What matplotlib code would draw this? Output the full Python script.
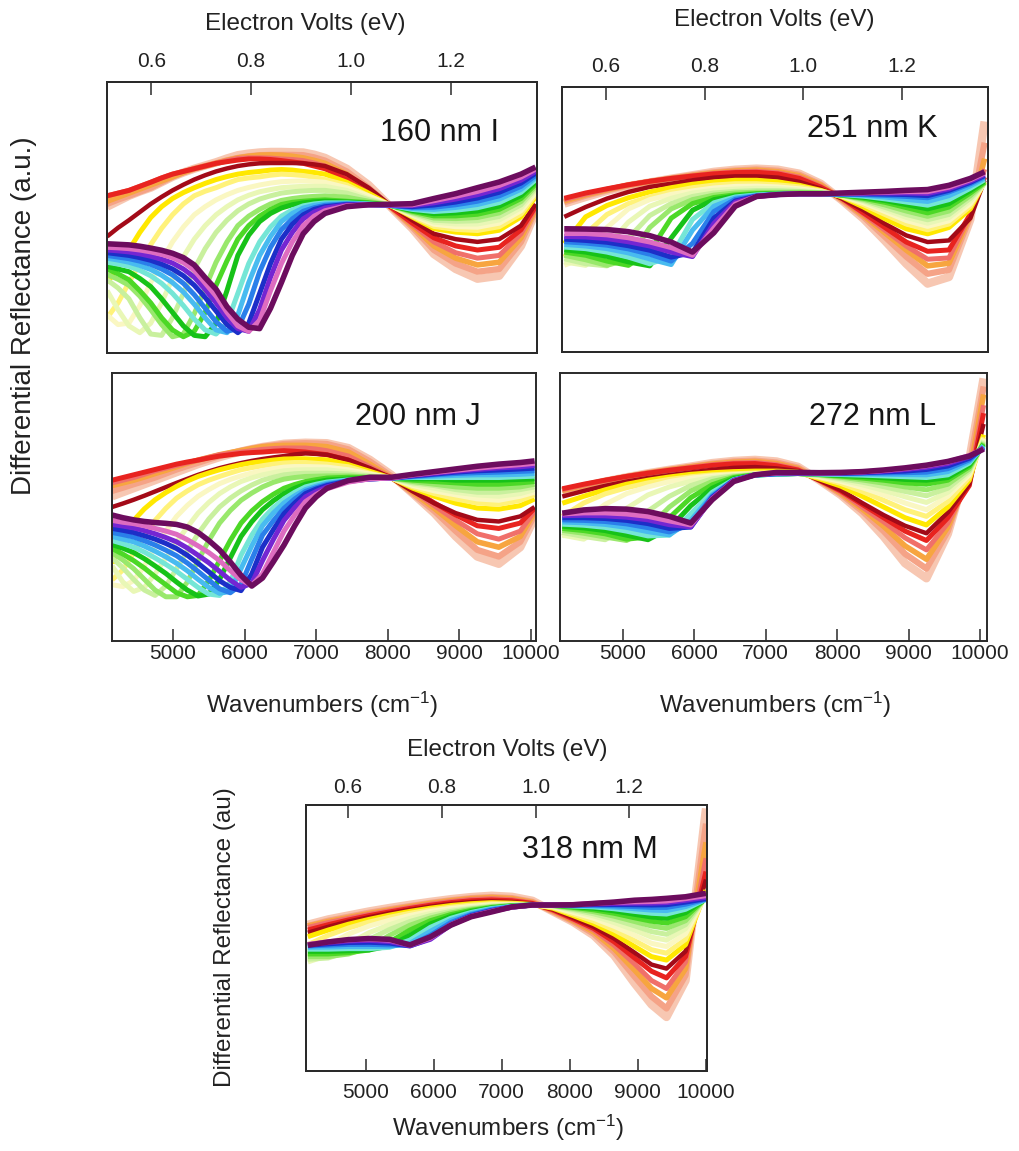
import numpy as np
import matplotlib.pyplot as plt

plt.rcParams['font.family'] = ['Liberation Sans', 'DejaVu Sans']
plt.rcParams['mathtext.fontset'] = 'custom'
plt.rcParams['mathtext.rm'] = 'Liberation Sans'
plt.rcParams['mathtext.it'] = 'Liberation Sans:italic'

# spectrum colours, first scan -> last scan
colors = ['#f7c7b2', '#f5a387', '#f7a540', '#f0706a', '#e8231f', '#a30a18',
          '#ffe800', '#fff27a', '#faf7c2', '#e9f7b6', '#c9f09e', '#99e86c',
          '#4cd826', '#17c218', '#75e6d6', '#48bbf0', '#2a7fea', '#1c2fc8',
          '#7426d2', '#de6cc0', '#6c0c5e']
widths = [6, 4.5, 4, 3.6, 3.6, 3.2, 3.6, 3.6, 3.6, 3.6, 3.6, 3.6,
          3.6, 3.6, 3.6, 3.6, 3.6, 3.6, 3.6, 3.6, 4]

# wavenumber samples (cm-1)
wn_fine = [4150, 4300, 4450, 4600, 4750, 4900, 5050, 5200, 5350, 5500, 5650,
           5800, 5950, 6100, 6250, 6400, 6550, 6700, 6850, 7000, 7150,
           7450, 7750, 8050, 8350, 8650, 8950, 9250, 9550, 9850, 10050]
wn = [4150, 4450, 4750, 5050, 5350, 5650, 5950, 6250, 6550, 6850, 7150,
      7450, 7750, 8050, 8350, 8650, 8950, 9250, 9550, 9850, 10050]
wn_m = [4150, 4450, 4750, 5050, 5350, 5650, 5950, 6250, 6550, 6850, 7150,
        7450, 7750, 8050, 8350, 8650, 8950, 9200, 9420, 9700, 10000]

wn_ticks = [5000, 6000, 7000, 8000, 9000, 10000]
ev_ticks = [0.6, 0.8, 1.0, 1.2]
ev_labels = ['0.6', '0.8', '1.0', '1.2']

# differential reflectance (a.u.) for each scan
curves_160 = [
    [54, 56, 58, 59.6, 61, 63, 65, 66.6, 68, 69.2, 70.4, 71.8, 73, 73.6, 74, 74.2, 74.2, 74.1, 74, 73.2, 72,
     68, 62, 54, 46, 36.5, 31, 27.4, 28.5, 39.5, 52],
    [55, 56.6, 58, 59.5, 61, 63, 65, 66.6, 68, 69, 70, 71.1, 72, 72.6, 73, 73.1, 73.1, 73.1, 73, 72.2, 71,
     67, 61, 54, 46.5, 38, 33, 30, 31, 41, 52.5],
    [56, 57.5, 59, 60.5, 62, 63.5, 65, 66.6, 68, 69, 70, 71.1, 72, 72.6, 73, 73.1, 73, 72.6, 72, 71.1, 70,
     66, 60, 54, 47, 39.5, 35, 32.5, 33.5, 42.5, 53],
    [58, 59, 60, 61.5, 63, 64.6, 66, 67, 68, 69, 70, 71, 71.8, 72, 72, 71.9, 71.6, 71.4, 71, 70.1, 69,
     65, 60, 54, 47.5, 41, 37, 35, 36, 44, 53.5],
    [58, 59, 60, 61.5, 63, 64.6, 66, 67, 68, 69, 70, 70.6, 71.2, 71.6, 71.6, 71.4, 71, 70.5, 70, 69, 68,
     64, 59, 54, 48, 42.5, 39.5, 38, 39, 45.5, 54],
    [43, 46.2, 49, 52, 55, 57.6, 60, 62.1, 64, 65.6, 67, 68.1, 69, 69.6, 70, 70.1, 70.1, 70.1, 70, 69.6, 69,
     66, 61, 54.5, 49, 44, 42, 41, 42, 47, 55],
    [26, 31.5, 38, 44.5, 50, 54, 57, 59.2, 61, 62.6, 64, 65.1, 66, 66.6, 67, 67.5, 67.7, 67.5, 67, 66.6, 66,
     63, 59, 54.5, 50.2, 45.9, 44.6, 44, 45.3, 50.2, 57.6],
    [13, 18.5, 26, 33, 40, 46, 51, 55, 58, 59.7, 61, 62.6, 64, 64.6, 65, 65.6, 66, 65.8, 65.5, 64.8, 64,
     62, 58, 54.5, 50.5, 46.7, 45.6, 45.2, 46.6, 51.3, 58.4],
    [14, 10.5, 11, 17.5, 26, 34, 41, 46.5, 51, 54, 56.5, 58.4, 60, 61.1, 62, 62.7, 63.2, 63.4, 63.5, 63.3, 63,
     61, 58, 54.5, 50.9, 47.5, 46.6, 46.4, 47.9, 52.5, 59.2],
    [23, 16, 10, 7.5, 11, 18.5, 27.5, 35.5, 42, 47, 51, 54, 56.5, 58.2, 59.5, 60.3, 61, 61.3, 61.5, 61.5, 61.5,
     60, 57, 54.5, 51.2, 48.3, 47.6, 47.6, 49.1, 53.6, 60],
    [27, 24, 20, 13, 7, 6.5, 13, 22, 31, 38.5, 44.5, 49, 52.5, 55, 56.8, 58, 59, 59.5, 59.8, 60, 60,
     59, 56.6, 54.5, 51.6, 49, 48.6, 48.8, 50.4, 54.7, 60.7],
    [29, 27.2, 25, 21, 16, 10.5, 6, 7, 14.5, 24, 33.5, 41, 47, 50.5, 53, 55, 56.3, 57, 57.5, 57.8, 58,
     57.5, 56, 54.5, 51.9, 49.8, 49.6, 50, 51.7, 55.9, 61.5],
    [31, 29.2, 27, 23, 18.5, 13, 8.5, 6, 8, 15, 25, 34, 42, 47, 50.5, 53, 54.8, 55.6, 56, 56.3, 56.5,
     56, 55.5, 54.5, 52.3, 50.6, 50.6, 51.2, 53, 57, 62.3],
    [32, 31, 30, 27.5, 24.5, 20, 15, 10, 6.5, 6, 11, 23, 36, 43.5, 48.5, 51.5, 53.5, 54.7, 55.4, 55.8, 56,
     55.7, 55.2, 54.5, 52.6, 51.4, 51.7, 52.4, 54.2, 58.1, 63.1],
    [33.5, 32.8, 32, 30.5, 28.5, 25.7, 22, 17.5, 12.5, 8.5, 7, 11, 22, 33, 41, 46.5, 50.5, 52.8, 54.3, 55, 55.4,
     55.4, 55, 54.5, 53, 52.2, 52.7, 53.6, 55.5, 59.3, 63.9],
    [35, 34.3, 33.5, 32.3, 30.8, 28.7, 26, 22.5, 18, 13, 8.5, 7.5, 14, 26, 36, 43, 48.5, 51.5, 53.5, 54.5, 55,
     55.2, 54.9, 54.5, 53.3, 53, 53.7, 54.8, 56.8, 60.4, 64.7],
    [36, 35.4, 34.8, 33.9, 32.7, 31, 28.8, 25.7, 21.5, 16.5, 11.5, 8, 9, 18, 30, 39, 45.5, 49.5, 52.3, 53.6, 54.5,
     55, 54.8, 54.5, 53.7, 53.8, 54.7, 56, 58, 61.5, 65.5],
    [37, 36.5, 36, 35.2, 34.2, 32.8, 31, 28.5, 25, 20.5, 15.5, 10.5, 7.5, 11, 22, 33, 42, 47.5, 51, 53, 54,
     54.8, 54.7, 54.5, 54, 54.6, 55.7, 57.2, 59.3, 62.7, 66.3],
    [38, 37.7, 37.3, 36.6, 35.7, 34.6, 33.2, 31, 28, 23.5, 18.5, 13, 9, 8, 16, 28, 38, 44.5, 49.5, 52, 53.5,
     54.6, 54.7, 54.6, 54.4, 55.4, 56.8, 58.4, 60.6, 63.8, 67],
    [39, 38.8, 38.5, 38, 37.3, 36.4, 35.2, 33.4, 30.5, 25.8, 21, 15, 10, 8, 12, 23, 33, 41, 47, 50.5, 52.5,
     54.3, 54.7, 54.7, 54.7, 56.2, 57.8, 59.6, 61.8, 64.9, 67.8],
    [40.3, 40.1, 39.9, 39.4, 38.7, 37.9, 36.8, 35.2, 32.5, 27.8, 23.5, 17.1, 12.5, 9.5, 9, 16.5, 26, 36, 44, 48.5, 51.5,
     54, 54.7, 54.9, 55.1, 57, 58.8, 61, 63.1, 66, 68.6],
]

curves_200 = [
    [54, 55.5, 57, 58.5, 60, 61.5, 63, 64.5, 66, 67.3, 68.6, 69.7, 70.7, 71.6, 72.4, 73, 73.6, 73.8, 74, 73.9, 73.8,
     72, 67.6, 62, 55, 47.7, 39, 31.5, 28.8, 35, 46],
    [56, 57.2, 58.5, 59.7, 61, 62.5, 64, 65.3, 66.5, 67.8, 69, 70, 71, 71.8, 72.5, 73, 73.5, 73.7, 73.8, 73.7, 73.5,
     71.5, 67, 61.5, 55, 48.5, 41, 34, 31.5, 37, 47],
    [58, 59, 60, 61.2, 62.5, 63.7, 65, 66.3, 67.5, 68.5, 69.5, 70.3, 71, 71.8, 72.5, 72.8, 73, 73, 73, 72.8, 72.5,
     70.5, 66, 61, 55.5, 49.5, 43, 37, 35, 39, 48],
    [59, 60, 61, 62.2, 63.5, 64.5, 65.5, 66.5, 67.5, 68.5, 69.5, 70, 70.5, 71, 71.5, 71.8, 72, 72, 72, 71.6, 71,
     69, 65, 61, 56, 50.5, 45, 40, 38, 41, 48.5],
    [60, 61, 62, 63, 64, 65, 66, 66.8, 67.5, 68.3, 69, 69.5, 70, 70.3, 70.5, 70.8, 71, 70.8, 70.5, 70, 69.5,
     67.5, 64, 61, 56.5, 51.5, 47, 43, 42, 44, 49.5],
    [50, 51.3, 52.7, 54.2, 55.8, 57.4, 59, 60.5, 62, 63.3, 64.5, 65.5, 66.4, 67.2, 67.9, 68.5, 69, 69.6, 70, 69.8, 69.5,
     67.6, 64.5, 60.8, 55.8, 51.4, 47.7, 45.2, 44.6, 46.5, 50],
    [29, 38, 45, 49.3, 52.7, 55.4, 57.7, 59.7, 61.4, 62.7, 63.9, 64.9, 65.8, 66.5, 67, 67.5, 67.9, 68, 68, 67.8, 67.6,
     65.8, 63.3, 60.8, 57, 54, 51.4, 49.6, 49.2, 50.5, 53],
    [22.8, 26.5, 32.8, 39.3, 45, 49.5, 53.3, 56, 58.3, 60, 61.4, 62.7, 63.9, 64.7, 65.4, 66, 66.4, 66.6, 66.6, 66.3, 66,
     65, 62.6, 60.8, 57.5, 55, 53, 51.5, 51, 52.5, 54.5],
    [21, 20.3, 22.5, 28, 35, 41, 46.5, 50.6, 54, 56.5, 58.7, 60.3, 61.6, 62.7, 63.6, 64.3, 64.9, 65.1, 65.1, 65, 64.9,
     63.9, 62.3, 60.8, 58, 56, 54.5, 53, 52.5, 54, 55.5],
    [28, 22, 18.5, 20, 25, 31, 37, 42.5, 47.7, 51.7, 55, 57.5, 59.5, 60.9, 62, 62.8, 63.5, 63.8, 63.9, 63.9, 63.9,
     63, 61.9, 60.8, 58.5, 57, 55.5, 54.5, 54, 55, 56.5],
    [31, 27.3, 23, 19, 17, 20.5, 27, 33.5, 40, 45.5, 50, 53.3, 56, 58.2, 60, 61.1, 62, 62.4, 62.6, 62.6, 62.6,
     62.3, 61.5, 60.8, 59, 58, 56.5, 55.5, 55.5, 56.5, 57.5],
    [33, 30.2, 27, 23, 19, 16.5, 16.5, 22, 30, 37.5, 44, 48.7, 52.5, 55.2, 57.5, 59.2, 60.4, 61, 61.4, 61.5, 61.6,
     61.6, 61.2, 60.8, 59.5, 58.5, 57.5, 57, 57, 57.5, 58.5],
    [34.5, 32.4, 30, 27.2, 24, 21, 18, 16.5, 17, 22.5, 30, 37.5, 44, 48.5, 52, 54.7, 57, 58.4, 59.5, 60.2, 60.8,
     61.1, 61, 60.8, 60, 59.5, 59, 58.5, 58.5, 59, 59.5],
    [36, 34.6, 33, 30.7, 28, 25.2, 22, 19, 16.8, 17.5, 23, 31, 39, 44.5, 49, 52.3, 55, 57, 58.5, 59.3, 60,
     60.5, 60.8, 60.8, 60.5, 60.5, 60, 60, 60, 60.3, 60.5],
    [37.5, 36.3, 35, 33.2, 31, 28.6, 26, 23, 20, 17.5, 17, 22, 32, 39.5, 45.5, 49.7, 53, 55.5, 57.5, 58.5, 59.3,
     60.1, 60.6, 60.8, 61, 61, 61, 61, 61, 61.3, 61.5],
    [39, 38, 37, 35.4, 33.5, 31.4, 29, 26.2, 23, 20, 17.8, 18.5, 27, 35.5, 43, 47.7, 51.5, 54.2, 56.5, 57.8, 58.9,
     59.9, 60.5, 60.8, 61.2, 61.5, 61.8, 62, 62, 62.2, 62.5],
    [40.5, 39.7, 38.8, 37.4, 35.8, 33.9, 31.8, 29.1, 26, 22.7, 19.5, 18, 21, 30.5, 39.5, 44.8, 49.5, 53, 55.8, 57.2, 58.4,
     59.8, 60.5, 60.8, 61.4, 62, 62.5, 62.8, 63, 63.3, 63.5],
    [42, 41.3, 40.5, 39.3, 38, 36.4, 34.5, 32, 29, 25.8, 22.5, 20, 18.8, 25, 35, 41.5, 47.5, 51.5, 55, 56.7, 58,
     59.7, 60.5, 60.8, 61.6, 62.3, 63, 63.5, 63.8, 64.2, 64.5],
    [43.5, 42.9, 42.2, 41.2, 40, 38.6, 37, 34.7, 32, 29.2, 26, 22.7, 20, 21.5, 30, 37.8, 45, 49.8, 53.8, 55.8, 57.5,
     59.5, 60.5, 60.8, 61.8, 62.6, 63.4, 64, 64.6, 65, 65.5],
    [45, 44.3, 43.8, 43, 42, 41, 39.8, 37.8, 35.5, 33, 30, 26.3, 22.8, 20.8, 25, 33, 41, 47, 52, 54.7, 56.8,
     59.3, 60.5, 60.8, 62, 62.9, 63.7, 64.5, 65.2, 65.8, 66.3],
    [47, 46, 45.2, 44.6, 44.2, 43.9, 43.5, 42.5, 40.5, 37.5, 34, 29.5, 24.5, 20.5, 23.5, 29.5, 35.8, 43, 49.6, 53.8, 57,
     59.9, 61.1, 61.1, 62.2, 63.2, 64.2, 65.2, 66, 66.6, 67.2],
]

curves_251 = [
    [56, 58.5, 60.8, 62.6, 64, 65.4, 66.7, 68, 68.8, 69.2, 68.8, 67.3, 63.5, 57.2, 50.3, 42, 33.3, 25.8, 28.3, 50, 87],
    [56.5, 59, 61, 62.8, 64.2, 65.5, 66.7, 67.8, 68.5, 68.9, 68.4, 66.9, 63.2, 57.3, 51, 43.5, 36, 29.5, 31, 51, 79],
    [57, 59.3, 61.2, 63, 64.3, 65.5, 66.6, 67.6, 68.3, 68.6, 68, 66.5, 63, 57.5, 51.5, 45, 38.5, 32.5, 33.5, 51.5, 73],
    [57.5, 59.6, 61.4, 63, 64.4, 65.5, 66.5, 67.4, 68, 68.2, 67.6, 66, 62.5, 57.7, 52, 46, 40, 35, 35.5, 52, 69],
    [58, 60, 61.6, 63.1, 64.4, 65.5, 66.4, 67.2, 67.7, 67.8, 67.2, 65.5, 62.2, 58, 52.5, 47, 41.5, 38, 38.5, 52, 66],
    [51, 54.7, 57.9, 60.4, 62.3, 63.5, 64.8, 65.8, 66.3, 66.3, 65.8, 64.2, 61.6, 57.9, 53.5, 48.4, 44, 41.5, 42.1, 50.5, 64.8],
    [40.9, 51, 55.3, 58.2, 60.4, 62, 63.3, 64.2, 64.8, 64.8, 64.2, 62.9, 61, 58.5, 54.7, 50.3, 46.5, 44.6, 47, 54, 64.2],
    [35.8, 44.6, 51.9, 56, 58.5, 60.5, 62, 63, 63.5, 63.5, 63.1, 62.3, 60.8, 58.7, 55.6, 51.9, 48.3, 46.1, 48.3, 55, 64],
    [32.7, 36, 47, 54, 57.5, 59.5, 60.8, 61.9, 62.5, 62.6, 62.3, 61.6, 60.5, 58.9, 56.3, 53, 49.6, 47.4, 49.5, 56, 63.8],
    [34, 32.7, 40, 49, 55, 58, 60, 61, 61.5, 61.8, 61.6, 61.1, 60.3, 59, 56.8, 53.8, 50.8, 48.6, 50.7, 57, 63.7],
    [35.2, 33.3, 32.5, 43, 51.5, 56, 58.7, 60, 60.6, 60.9, 60.9, 60.6, 60.1, 59.1, 57.2, 54.6, 51.9, 49.9, 51.9, 58, 63.7],
    [36.5, 34.8, 32.7, 35, 47, 54, 57.5, 59.2, 60, 60.3, 60.3, 60.3, 60, 59.2, 57.6, 55.5, 53.2, 51.2, 53.2, 59, 63.8],
    [37.7, 36.5, 34.3, 32.7, 38, 50.5, 56, 58.3, 59.3, 59.8, 59.9, 59.9, 59.9, 59.2, 58, 56.5, 54.5, 52.5, 54.7, 60, 64],
    [38.6, 37.7, 36.1, 34, 32.5, 43, 53.5, 57.5, 58.9, 59.5, 59.7, 59.8, 59.8, 59.3, 58.4, 57.2, 55.6, 54, 56, 60.9, 64.5],
    [39.6, 39, 37.7, 35.8, 33.3, 36, 50, 56.3, 58.5, 59.3, 59.6, 59.7, 59.8, 59.4, 58.8, 57.8, 56.6, 55.4, 57.5, 61.8, 65],
    [40.6, 40, 39, 37.4, 35.1, 33, 46, 55, 58.1, 59.1, 59.5, 59.7, 59.7, 59.5, 59.1, 58.5, 57.6, 56.8, 59, 62.7, 65.6],
    [41.6, 41.1, 40.3, 38.9, 36.9, 34.3, 41, 53, 57.6, 58.9, 59.4, 59.7, 59.7, 59.6, 59.4, 59.1, 58.7, 58.2, 60.4, 63.5, 66.2],
    [42.6, 42.1, 41.4, 40.1, 38.4, 35.8, 37.5, 50.5, 57, 58.8, 59.4, 59.7, 59.7, 59.7, 59.7, 59.6, 59.4, 59, 61, 64, 66.6],
    [43.6, 43.4, 42.8, 41.6, 40, 37.7, 36, 48.5, 56.5, 58.7, 59.4, 59.7, 59.7, 59.8, 59.9, 60, 60, 59.8, 61.6, 64.5, 67],
    [44.7, 44.7, 44.2, 43.1, 41.5, 39.4, 36.5, 46.8, 55.8, 58.7, 59.4, 59.7, 59.7, 59.9, 60.1, 60.3, 60.5, 60.5, 62.2, 65, 67.5],
    [46.5, 46.4, 46.2, 45.4, 43.9, 41.5, 37.7, 45, 55, 58.7, 59.4, 59.7, 59.7, 60, 60.3, 60.6, 61, 61.3, 62.9, 65.5, 68],
]

curves_272 = [
    [55.8, 57.7, 59.5, 61.1, 62.6, 63.9, 65.1, 66.4, 67.2, 67.6, 67, 65, 60, 54.5, 47.7, 39, 29, 23.4, 40, 67.6, 98],
    [56, 57.9, 59.7, 61.2, 62.6, 63.9, 65, 66.2, 67, 67.3, 66.6, 64.7, 60, 54.8, 48.5, 41, 32.5, 27, 41, 65, 95],
    [56.2, 58, 59.8, 61.3, 62.7, 63.9, 65, 66, 66.7, 67, 66.2, 64.4, 60, 55.2, 49.3, 42.8, 35.5, 30.5, 42.5, 62, 92],
    [56.5, 58.2, 59.9, 61.4, 62.7, 63.8, 64.8, 65.8, 66.4, 66.6, 65.8, 64.1, 60, 55.6, 50, 44.5, 38.5, 34, 44, 60, 88],
    [56.8, 58.5, 60, 61.4, 62.6, 63.7, 64.6, 65.5, 66.1, 66.2, 65.4, 63.8, 60, 56, 51, 46, 41, 37.5, 46, 58, 85],
    [53.9, 56, 57.9, 59.5, 60.8, 61.9, 62.9, 63.9, 64.6, 64.9, 64.4, 63.4, 60, 56.3, 51.5, 47, 43, 40.2, 48, 58.5, 81],
    [51.4, 54, 56.4, 58.5, 60, 61.2, 62.2, 62.8, 63.2, 63.4, 63.4, 63, 60.5, 57.8, 54, 50, 46, 43.3, 50, 60, 77],
    [46.5, 51.5, 54.9, 57.2, 59, 60.3, 61.3, 62, 62.4, 62.7, 62.8, 62.7, 61, 58.8, 55.8, 52.5, 49, 46.5, 52, 61, 76],
    [39, 45, 51, 55, 57.5, 59.5, 60.8, 61.6, 62.1, 62.4, 62.6, 62.6, 61.3, 59.5, 57.2, 54.5, 51.5, 49, 54, 62, 75.5],
    [39.5, 38, 43, 49.5, 54.5, 57.5, 59.6, 61, 61.8, 62.2, 62.5, 62.5, 61.6, 60.1, 58.3, 56.2, 53.8, 51.7, 55.5, 62.8, 75],
    [40.5, 39, 37.8, 42, 48.5, 54, 58, 60.5, 61.6, 62.1, 62.4, 62.5, 61.8, 60.6, 59.3, 57.6, 55.8, 54.2, 57, 63.5, 74.5],
    [41.3, 40.2, 38.8, 37.5, 42, 50, 56, 59.5, 61.3, 62, 62.3, 62.5, 62, 61.1, 60.1, 58.9, 57.5, 56.4, 58.5, 64.2, 74],
    [42, 41.2, 40, 38, 38.8, 46, 53.5, 58.3, 61, 62, 62.3, 62.5, 62.1, 61.5, 60.8, 60, 59, 58.5, 60, 65, 73.6],
    [42.8, 42.2, 41.2, 39.5, 37.8, 42, 50.5, 57, 60.6, 61.9, 62.3, 62.5, 62.2, 61.8, 61.4, 60.9, 60.3, 60, 61, 65.7, 73.2],
    [43.6, 43.2, 42.4, 41, 39.2, 39.5, 47.5, 55.5, 60.2, 61.9, 62.3, 62.5, 62.3, 62.1, 61.9, 61.6, 61.3, 61, 62, 66.4, 72.9],
    [44.4, 44.1, 43.5, 42.4, 40.8, 39.6, 45, 54.5, 60, 61.9, 62.3, 62.5, 62.4, 62.3, 62.3, 62.2, 62.1, 62, 63.2, 67, 72.6],
    [45.2, 45, 44.6, 43.7, 42.3, 40.7, 43.5, 54, 60, 62, 62.4, 62.5, 62.5, 62.5, 62.6, 62.7, 62.8, 63, 64.3, 67.6, 72.3],
    [46, 46, 45.7, 45, 43.8, 42, 42.5, 53.6, 59.9, 62, 62.5, 62.6, 62.5, 62.6, 62.8, 63.1, 63.4, 64, 65.3, 68.2, 72],
    [46.8, 46.9, 46.7, 46.2, 45.2, 43.4, 42.6, 53.3, 59.8, 62, 62.6, 62.7, 62.6, 62.7, 63, 63.4, 64, 64.8, 66.2, 68.8, 71.9],
    [47.4, 47.8, 47.8, 47.4, 46.5, 44.8, 43.3, 53, 59.7, 62, 62.7, 62.8, 62.7, 62.8, 63.1, 63.6, 64.4, 65.4, 66.8, 69.2, 71.8],
    [47.7, 48.9, 49.4, 49.2, 48.3, 46.5, 44, 52.7, 59.5, 62, 62.9, 62.9, 62.8, 62.9, 63.2, 63.8, 64.6, 65.6, 67, 69, 71.6],
]

curves_318 = [
    [55, 57, 58.5, 60, 61.3, 62.5, 63.6, 64.6, 65.4, 65.9, 65.5, 64, 60, 56, 51, 43.5, 33, 25, 20.3, 34, 98.7],
    [54.5, 56.5, 58, 59.5, 60.8, 62, 63.2, 64.2, 65, 65.4, 65, 63.6, 60, 56.2, 51.6, 44.8, 35.5, 28, 23.5, 36, 93],
    [54.5, 56.2, 57.7, 59.2, 60.5, 61.8, 63, 64, 64.8, 65.2, 64.8, 63.4, 60.2, 56.5, 52.3, 46, 38, 31, 27.5, 38.5, 86],
    [54, 55.8, 57.4, 58.9, 60.2, 61.5, 62.7, 63.7, 64.5, 64.8, 64.4, 63.2, 60.4, 56.8, 53, 47.3, 40.3, 34, 31, 41, 80],
    [53, 55, 56.8, 58.4, 59.8, 61.1, 62.3, 63.3, 64, 64.3, 64, 63, 60.6, 57.2, 53.6, 48.6, 42.5, 37.5, 35, 43, 75],
    [52, 54.2, 56.2, 57.8, 59.3, 60.6, 61.8, 62.8, 63.5, 63.8, 63.5, 62.8, 60.8, 57.6, 54.2, 49.8, 44.5, 40, 38.5, 45, 72],
    [50.5, 53, 55.2, 57, 58.6, 60, 61.2, 62.2, 62.9, 63.3, 63.1, 62.6, 61.2, 58.4, 55.4, 51.5, 46.8, 43, 41.7, 47.5, 68],
    [47.5, 51, 53.8, 56, 57.8, 59.3, 60.6, 61.6, 62.4, 62.9, 62.8, 62.5, 61.5, 59, 56.4, 53, 49, 45.6, 44.3, 49.5, 67],
    [43, 47.5, 51.5, 54.5, 56.7, 58.5, 60, 61.1, 61.9, 62.5, 62.6, 62.4, 61.8, 59.6, 57.4, 54.4, 51, 48, 46.8, 51.5, 66.5],
    [41, 43.5, 48, 52, 55, 57.4, 59.2, 60.5, 61.5, 62.2, 62.4, 62.4, 62, 60.2, 58.3, 55.8, 53, 50.3, 49.2, 53.5, 66],
    [42, 42.5, 45, 49.5, 53.2, 56.2, 58.4, 60, 61.1, 61.9, 62.3, 62.4, 62.1, 60.7, 59.1, 57, 54.6, 52.4, 51.4, 55, 65.6],
    [43, 43, 44, 46.5, 51, 54.8, 57.5, 59.4, 60.8, 61.7, 62.2, 62.4, 62.2, 61.1, 59.9, 58.2, 56.2, 54.5, 53.6, 56.5, 65.3],
    [44, 44, 44.5, 45.5, 48.5, 53, 56.5, 58.8, 60.4, 61.5, 62.1, 62.4, 62.3, 61.5, 60.6, 59.3, 57.6, 56.3, 55.6, 58, 65],
    [45, 45, 45.2, 45.5, 47, 51, 55.3, 58.1, 60, 61.3, 62, 62.4, 62.4, 61.8, 61.2, 60.2, 58.9, 57.9, 57.4, 59.5, 64.8],
    [45.8, 45.8, 46, 46, 46.5, 49.2, 54, 57.4, 59.6, 61.1, 61.9, 62.4, 62.4, 62, 61.7, 61, 60, 59.3, 59, 60.8, 64.6],
    [46.5, 46.6, 46.8, 46.8, 46.8, 48, 52.5, 56.6, 59.2, 60.9, 61.8, 62.4, 62.4, 62.2, 62, 61.6, 61, 60.5, 60.3, 61.8, 64.5],
    [47, 47.3, 47.6, 47.6, 47.4, 47.3, 51, 55.8, 58.8, 60.6, 61.7, 62.4, 62.4, 62.3, 62.3, 62.1, 61.8, 61.5, 61.5, 62.7, 64.6],
    [47.3, 47.8, 48.3, 48.4, 48.1, 47, 49.8, 55.1, 58.4, 60.3, 61.6, 62.4, 62.4, 62.4, 62.6, 62.6, 62.5, 62.4, 62.5, 63.5, 64.8],
    [47.5, 48.3, 48.9, 49.1, 48.7, 47.1, 49.5, 54.9, 58.2, 60.1, 61.6, 62.4, 62.4, 62.5, 62.8, 63, 63.1, 63.1, 63.3, 64.2, 65.3],
    [47.6, 48.6, 49.3, 49.6, 49.2, 47.4, 50, 55, 58.1, 60, 61.6, 62.4, 62.4, 62.6, 63, 63.4, 63.6, 63.7, 63.9, 64.8, 65.9],
    [47.3, 48.5, 49.4, 49.8, 49.5, 47.4, 50.4, 54.8, 58, 59.8, 61.7, 62.4, 62.4, 62.5, 63, 63.5, 64.2, 64.5, 64.9, 65.5, 66.8],
]

W, H = 1020, 1151
fig = plt.figure(figsize=(W / 100, H / 100), dpi=100)


def px_rect(left, top, right, bottom):
    return [left / W, 1 - bottom / H, (right - left) / W, (bottom - top) / H]


def draw_panel(rect, xs, curves, xlim, label, lx, ly, ev=None, ev_pad=8,
               wn_axis=False, wn_pad=3):
    ax = fig.add_axes(rect)
    for ys, c, w in zip(curves, colors, widths):
        ax.plot(xs, ys, color=c, lw=w, solid_joinstyle='round',
                solid_capstyle='butt')
    ax.set_xlim(xlim)
    ax.set_ylim(0, 100)
    ax.set_yticks([])
    for s in ax.spines.values():
        s.set_linewidth(1.4)
        s.set_color('#2a2a2a')
    if wn_axis:
        ax.set_xticks(wn_ticks)
        ax.set_xticklabels([str(t) for t in wn_ticks])
        ax.tick_params(axis='x', direction='in', length=9, width=1.1,
                       color='#2a2a2a', labelsize=15, labelcolor='#222',
                       pad=wn_pad, top=False)
    else:
        ax.set_xticks([])
    if ev is not None:
        ax2 = ax.twiny()
        ax2.set_xlim(ev)
        ax2.set_xticks(ev_ticks)
        ax2.set_xticklabels(ev_labels)
        ax2.tick_params(axis='x', direction='in', length=9, width=1.1,
                        color='#2a2a2a', labelsize=15, labelcolor='#222',
                        pad=ev_pad)
        for s in ax2.spines.values():
            s.set_linewidth(1.4)
            s.set_color('#2a2a2a')
    ax.text(lx, ly, label, transform=ax.transAxes, ha='center', va='center',
            fontsize=22, color='#161616')
    return ax


draw_panel(px_rect(107, 82, 537, 353), wn_fine, curves_160, (4148, 10070),
           '160 nm I', 0.774, 0.812, ev=(0.511, 1.373), ev_pad=8)
draw_panel(px_rect(562, 87, 988, 352), wn, curves_251, (4118, 10098),
           '251 nm K', 0.728, 0.841, ev=(0.511, 1.374), ev_pad=8)
draw_panel(px_rect(112, 373, 536, 641), wn_fine, curves_200, (4148, 10070),
           '200 nm J', 0.722, 0.836, wn_axis=True, wn_pad=2)
draw_panel(px_rect(560, 373, 987, 641), wn, curves_272, (4118, 10098),
           '272 nm L', 0.731, 0.836, wn_axis=True, wn_pad=2)
draw_panel(px_rect(306, 805, 707, 1071), wn_m, curves_318, (4123, 10015),
           '318 nm M', 0.708, 0.831, ev=(0.510, 1.366), ev_pad=6,
           wn_axis=True, wn_pad=9)

# axis titles
lab = dict(fontsize=17.5, color='#222', ha='center', va='center')
fig.text(305 / W, 1 - 24 / H, 'Electron Volts (eV)', **lab)
fig.text(774 / W, 1 - 20 / H, 'Electron Volts (eV)', **lab)
fig.text(507 / W, 1 - 750 / H, 'Electron Volts (eV)', **lab)
fig.text(322 / W, 1 - 705 / H, 'Wavenumbers (cm$^{-1}$)', **lab)
fig.text(775 / W, 1 - 705 / H, 'Wavenumbers (cm$^{-1}$)', **lab)
fig.text(508 / W, 1 - 1128 / H, 'Wavenumbers (cm$^{-1}$)', **lab)
fig.text(24 / W, 1 - 316 / H, 'Differential Reflectance (a.u.)',
         rotation=90, fontsize=20, color='#222', ha='center', va='center')
fig.text(225 / W, 1 - 937 / H, 'Differential Reflectance (au)',
         rotation=90, **lab)

fig.savefig('out.png', dpi=100)
